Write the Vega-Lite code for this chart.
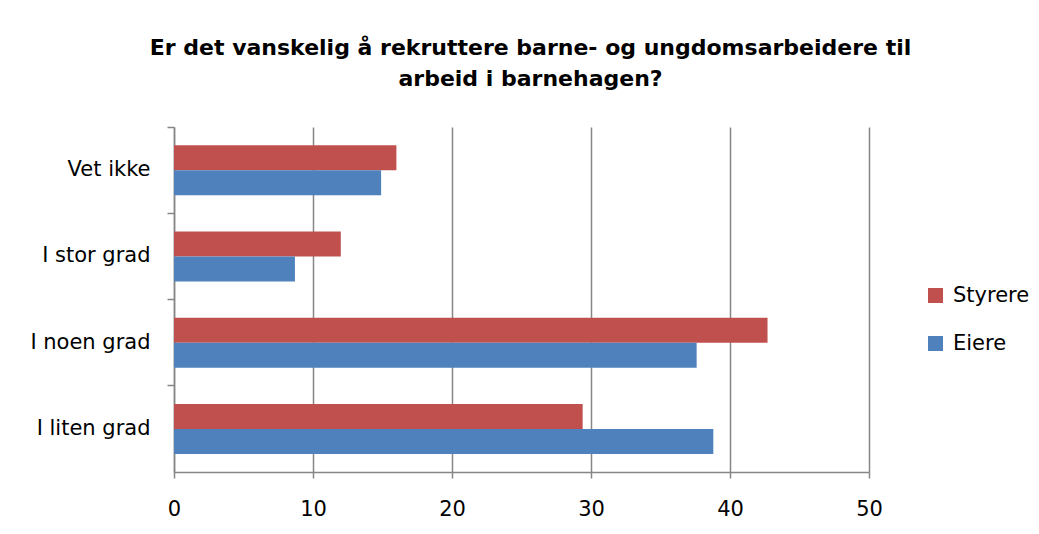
{
  "$schema": "https://vega.github.io/schema/vega-lite/v6.json",
  "autosize": {"type": "none"},
  "width": 695,
  "height": 345,
  "padding": {"left": 174, "top": 127, "right": 170, "bottom": 62},
  "background": "white",
  "title": {
    "text": ["Er det vanskelig å rekruttere barne- og ungdomsarbeidere til", "arbeid i barnehagen?"],
    "font": "DejaVu Sans",
    "fontSize": 22,
    "fontWeight": "bold",
    "color": "#000000",
    "lineHeight": 31,
    "anchor": "middle",
    "dx": 9,
    "offset": 35
  },
  "data": {
    "values": [
      {"svar": "Vet ikke", "gruppe": "Styrere", "verdi": 16.0},
      {"svar": "Vet ikke", "gruppe": "Eiere", "verdi": 14.9},
      {"svar": "I stor grad", "gruppe": "Styrere", "verdi": 12.0},
      {"svar": "I stor grad", "gruppe": "Eiere", "verdi": 8.7},
      {"svar": "I noen grad", "gruppe": "Styrere", "verdi": 42.7},
      {"svar": "I noen grad", "gruppe": "Eiere", "verdi": 37.6},
      {"svar": "I liten grad", "gruppe": "Styrere", "verdi": 29.4},
      {"svar": "I liten grad", "gruppe": "Eiere", "verdi": 38.8}
    ]
  },
  "mark": {"type": "bar"},
  "encoding": {
    "y": {
      "field": "svar",
      "type": "nominal",
      "sort": ["Vet ikke", "I stor grad", "I noen grad", "I liten grad"],
      "scale": {"paddingInner": 0, "paddingOuter": 0},
      "axis": {
        "title": null,
        "bandPosition": 0,
        "labelOffset": 0,
        "labelFont": "DejaVu Sans",
        "labelFontSize": 21,
        "labelColor": "#000000",
        "labelPadding": 17,
        "tickSize": 7,
        "tickColor": "#868686",
        "tickWidth": 1.5,
        "domainColor": "#868686",
        "domainWidth": 1.5
      }
    },
    "yOffset": {
      "field": "gruppe",
      "sort": ["Styrere", "Eiere"],
      "scale": {"paddingInner": 0, "paddingOuter": 0.725}
    },
    "x": {
      "field": "verdi",
      "type": "quantitative",
      "scale": {"domain": [0, 50], "nice": false},
      "axis": {
        "title": null,
        "values": [0, 10, 20, 30, 40, 50],
        "labelFlush": false,
        "grid": true,
        "gridColor": "#868686",
        "gridWidth": 1.5,
        "labelFont": "DejaVu Sans",
        "labelFontSize": 21,
        "labelColor": "#000000",
        "labelPadding": 20,
        "tickSize": 6,
        "tickColor": "#868686",
        "tickWidth": 1.5,
        "domainColor": "#868686",
        "domainWidth": 1.5
      }
    },
    "color": {
      "field": "gruppe",
      "type": "nominal",
      "scale": {"domain": ["Styrere", "Eiere"], "range": ["#C0504D", "#4F81BD"]},
      "legend": {
        "title": null,
        "orient": "none",
        "legendX": 751,
        "legendY": 158,
        "symbolType": "square",
        "symbolSize": 225,
        "symbolStrokeWidth": 0,
        "labelFont": "DejaVu Sans",
        "labelFontSize": 21,
        "labelColor": "#000000",
        "labelOffset": 7,
        "rowPadding": 26
      }
    }
  },
  "config": {"view": {"stroke": null}}
}
